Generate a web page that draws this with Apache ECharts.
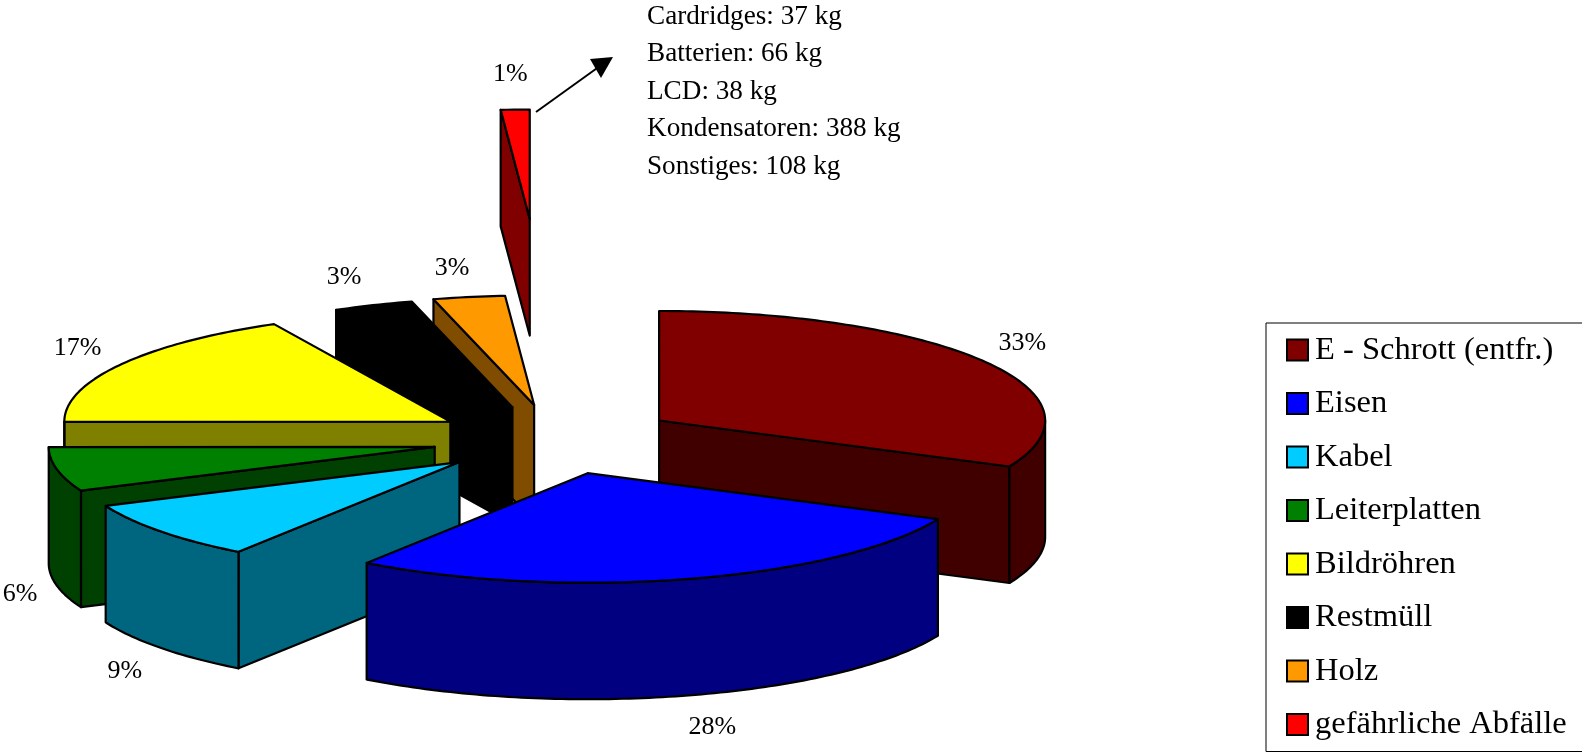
<!DOCTYPE html>
<html>
<head>
<meta charset="utf-8">
<title>Abfälle</title>
<script src="https://cdn.jsdelivr.net/npm/echarts@6/dist/echarts.min.js"></script>
<style>
    html, body { margin: 0; padding: 0; background: #fff; }
    #graph { width: 1582px; height: 752px; }
</style>
</head>
<body>
<div id="graph"></div>
<script>
// chart data
var categories = ['E - Schrott (entfr.)', 'Eisen', 'Kabel', 'Leiterplatten', 'Bildröhren', 'Restmüll', 'Holz', 'gefährliche Abfälle'];
var shares = [31.9, 27.8, 8.75, 6.5, 17.5, 3.35, 3.0, 1.2];
var percentLabels = ['33%', '28%', '9%', '6%', '17%', '3%', '3%', '1%'];
var hazardousDetails = ['Cardridges: 37 kg', 'Batterien: 66 kg', 'LCD: 38 kg', 'Kondensatoren: 388 kg', 'Sonstiges: 108 kg'];

// colours of the slices
var topColors = ['#800000', '#0000ff', '#00ccff', '#008000', '#ffff00', '#000000', '#ff9900', '#ff0000'];
var sideColors = ['#400000', '#000080', '#006680', '#004000', '#808000', '#000000', '#804d00', '#800000'];

// how far each slice is pulled out, as a part of the radius
var explode = [0.314, 0.314, 0.325, 0.325, 0.325, 0.32, 0.32, 2.01];
// small corrections of the pulled out position, in pixels
var apexNudges = [[0, 0], [-1, 1], [-0.5, 0.5], [0.5, 0.5], [0.5, 1], [0, 1], [-2, 0.5], [2, 0]];
// painter's order, the slices further back are drawn first
var drawOrder = [4, 8, 7, 6, 5, 3, 2, 1];
// label offset from the middle of the slice rim
var labelOffsets = [[38, -18], [24, 148], [-36, 140], [-37, 125], [-43, -16], [-29, -28], [-17, -29], [-5, -35]];

// the tilted pie
var pie = { cx: 557, cy: 439, rx: 386, ry: 109.5, depth: 116.5 };
var serifFont = '"Liberation Serif", "Times New Roman", serif';

// start and end angle of each slice, clockwise from 12 o'clock
var total = shares.reduce(function (a, b) { return a + b; }, 0);
var startAngles = [];
var endAngles = [];
var running = 0;
for (var i = 0; i < shares.length; i++) {
    startAngles.push(running);
    running += shares[i] / total * 360;
    endAngles.push(running);
}

// project an angle of the pie on the screen
function rimPoint(apex, deg, drop) {
    var rad = deg * Math.PI / 180;
    return [apex[0] + pie.rx * Math.sin(rad), apex[1] - pie.ry * Math.cos(rad) + (drop || 0)];
}

function face(points, fill) {
    return {
        type: 'polygon',
        shape: { points: points },
        style: { fill: fill, stroke: '#000', lineWidth: 2.2, lineJoin: 'round' }
    };
}

// a straight cut from the apex to the rim, visible only when it faces the viewer
function cutFace(apex, deg, normal, fill) {
    if (Math.cos(normal * Math.PI / 180) >= -0.001) {
        return null;
    }
    var rim = rimPoint(apex, deg);
    return face([apex, rim, [rim[0], rim[1] + pie.depth], [apex[0], apex[1] + pie.depth]], fill);
}

// draw one slice of the pie
function renderSlice(index) {
    var from = startAngles[index];
    var to = endAngles[index];
    var mid = (from + to) / 2 * Math.PI / 180;
    var apex = [
        pie.cx + explode[index] * pie.rx * Math.sin(mid) + apexNudges[index][0],
        pie.cy - explode[index] * pie.ry * Math.cos(mid) + apexNudges[index][1]
    ];
    var children = [];

    var startCut = cutFace(apex, from, from - 90, sideColors[index]);
    var endCut = cutFace(apex, to, to + 90, sideColors[index]);
    if (startCut) children.push(startCut);
    if (endCut) children.push(endCut);

    // outer wall, only the part between 90 and 270 degrees can be seen
    var wallFrom = Math.max(from, 90);
    var wallTo = Math.min(to, 270);
    if (wallTo > wallFrom) {
        var wall = [];
        var back = [];
        for (var d = wallFrom; d < wallTo; d++) {
            wall.push(rimPoint(apex, d));
            back.unshift(rimPoint(apex, d, pie.depth));
        }
        wall.push(rimPoint(apex, wallTo));
        back.unshift(rimPoint(apex, wallTo, pie.depth));
        children.push(face(wall.concat(back), sideColors[index]));
    }

    // top of the slice
    var top = [apex];
    for (var a = from; a < to; a++) {
        top.push(rimPoint(apex, a));
    }
    top.push(rimPoint(apex, to));
    children.push(face(top, topColors[index]));

    // percent label next to the rim
    var labelAnchor = rimPoint(apex, (from + to) / 2);
    children.push({
        type: 'text',
        style: {
            text: percentLabels[index],
            x: labelAnchor[0] + labelOffsets[index][0],
            y: labelAnchor[1] + labelOffsets[index][1],
            fill: '#000',
            font: '26px ' + serifFont,
            align: 'center',
            verticalAlign: 'middle'
        }
    });

    return { type: 'group', children: children };
}

// one custom series for each slice, so the legend gets its entries
var series = categories.map(function (name, index) {
    return {
        name: name,
        type: 'custom',
        coordinateSystem: 'none',
        z: drawOrder[index],
        itemStyle: { color: topColors[index] },
        data: [shares[index]],
        renderItem: function () {
            return renderSlice(index);
        }
    };
});

// the list of the hazardous waste and its arrow
var graphics = hazardousDetails.map(function (line, index) {
    return {
        type: 'text',
        style: {
            text: line,
            x: 647,
            y: 16.5 + index * 37.5,
            fill: '#000',
            font: '27.2px ' + serifFont,
            verticalAlign: 'middle'
        }
    };
});
graphics.push({
    type: 'line',
    shape: { x1: 536, y1: 112, x2: 600, y2: 66 },
    style: { stroke: '#000', lineWidth: 2 }
});
graphics.push({
    type: 'polygon',
    shape: { points: [[613, 57], [590, 59], [601, 78]] },
    style: { fill: '#000' }
});

var chart = echarts.init(document.getElementById('graph'));

var option = {
    animation: false,
    backgroundColor: '#fff',
    legend: {
        orient: 'vertical',
        left: 1266,
        top: 323,
        height: 428,
        padding: [10, 30, 10, 20],
        backgroundColor: '#fff',
        borderColor: '#000',
        borderWidth: 1,
        icon: 'rect',
        itemWidth: 21,
        itemHeight: 21,
        itemGap: 19.5,
        itemStyle: { borderColor: '#000', borderWidth: 2 },
        inactiveColor: '#000',
        selectedMode: false,
        textStyle: { color: '#000', fontFamily: serifFont, fontSize: 32.5, lineHeight: 30, padding: [4, 0, 0, 2] }
    },
    graphic: graphics,
    series: series
};

chart.setOption(option);
</script>
</body>
</html>
